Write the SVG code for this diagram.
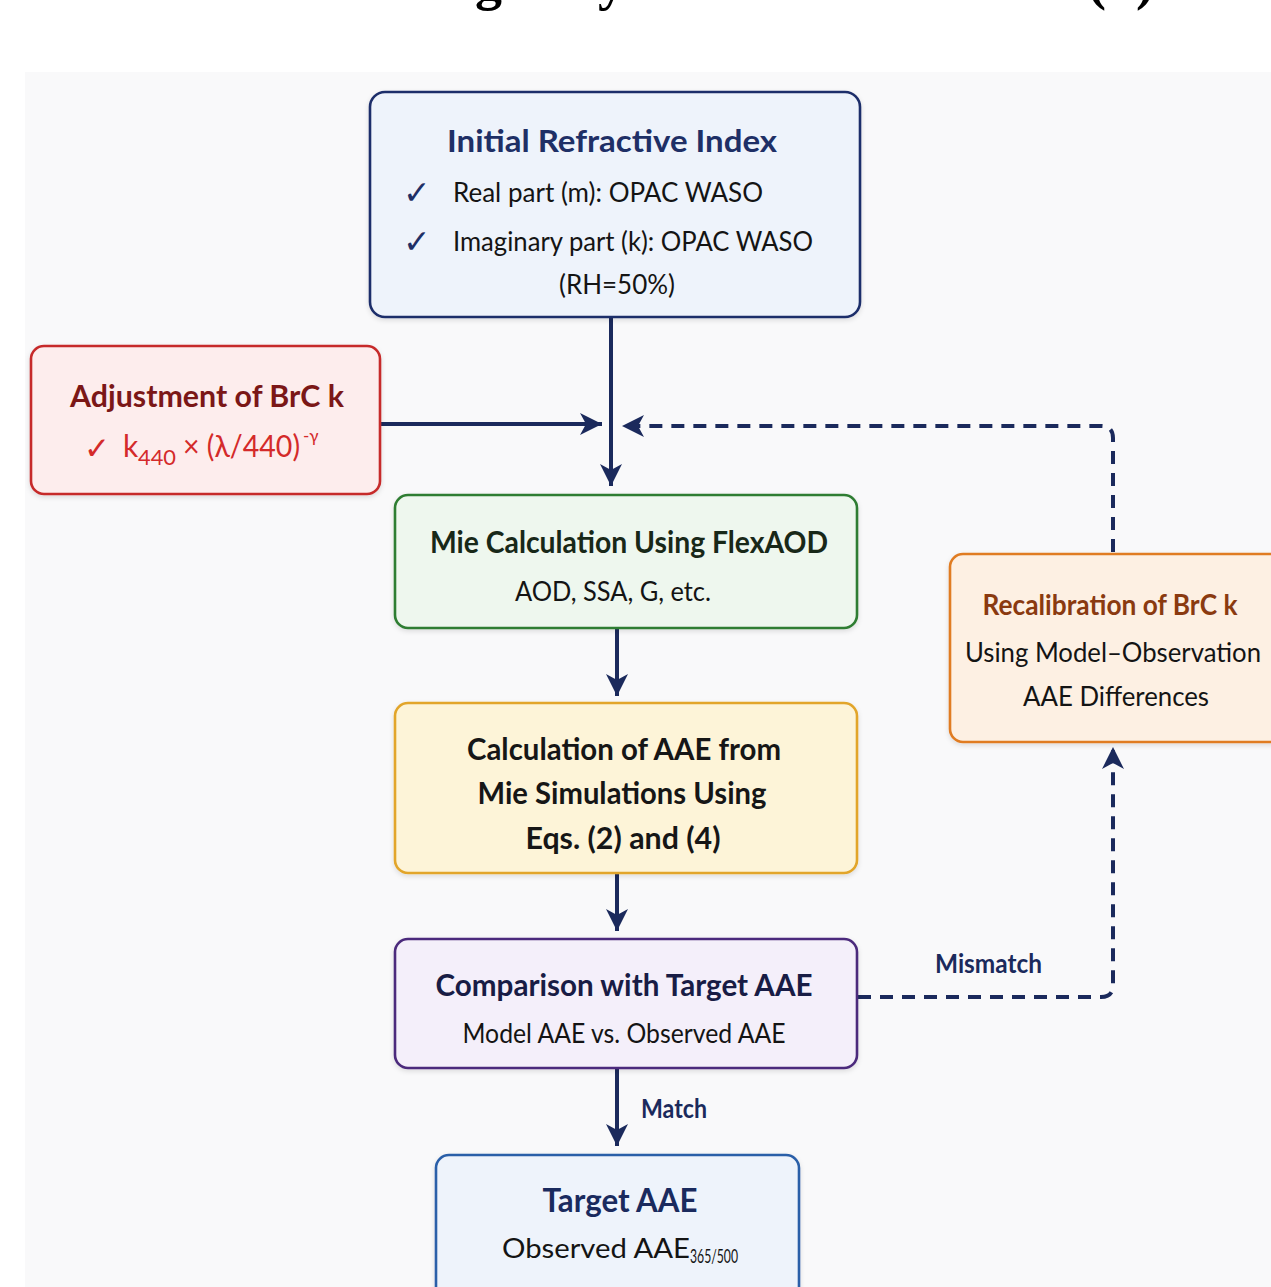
<svg xmlns="http://www.w3.org/2000/svg" width="1271" height="1287" viewBox="0 0 1271 1287">
<style>
text{font-family:Lato,"Open Sans","DejaVu Sans",sans-serif;}
text.serif{font-family:"Liberation Serif","Times New Roman",serif;}
.b{font-weight:700;}
.ttl{font-size:31px;}
.body{font-size:27px;fill:#141414;}
.box{stroke-width:2.6;filter:url(#sh);}
.conn{stroke:#1b2a5c;fill:none;stroke-width:4;}
.dash{stroke-dasharray:13 9;}
.lbl{font-size:26px;fill:#1b2a5c;font-weight:700;}
text.chk{font-family:"DejaVu Sans",sans-serif;font-weight:700;}
</style>
<defs>
<filter id="sh" x="-5%" y="-5%" width="110%" height="115%">
<feDropShadow dx="0" dy="2" stdDeviation="2.5" flood-color="#000" flood-opacity="0.12"/>
</filter>
<marker id="ah" viewBox="-24 -13 26 26" refX="0" refY="0" markerWidth="26" markerHeight="26" markerUnits="userSpaceOnUse" orient="auto">
<path d="M-22,-11 L0,0 L-22,11 L-16,0 z" fill="#1b2a5c"/>
</marker>
</defs>
<rect x="0" y="0" width="1271" height="1287" fill="#ffffff"/>
<rect x="25" y="72" width="1246" height="1215" fill="#f9f9fa"/>
<text class="serif b" font-size="54" fill="#000" y="-1"><tspan x="-36">Schematic of BrC</tspan><tspan x="382">Imaginary Refractive Index</tspan><tspan x="1088">(k)</tspan></text>

<g id="connectors">
<line class="conn" x1="611" y1="317" x2="611" y2="486" marker-end="url(#ah)"/>
<line class="conn" x1="380" y1="424" x2="602" y2="424" stroke-width="5" marker-end="url(#ah)"/>
<path class="conn dash" d="M1113,552 L1113,438 Q1113,426 1101,426 L622,426" marker-end="url(#ah)"/>
<line class="conn" x1="617" y1="628" x2="617" y2="696" marker-end="url(#ah)"/>
<line class="conn" x1="617" y1="873" x2="617" y2="931" marker-end="url(#ah)"/>
<line class="conn" x1="617" y1="1068" x2="617" y2="1146" marker-end="url(#ah)"/>
<path class="conn dash" d="M858,997 L1101,997 Q1113,997 1113,985 L1113,747" marker-end="url(#ah)"/>
<text class="lbl" x="935" y="973" textLength="107" lengthAdjust="spacingAndGlyphs">Mismatch</text>
<text class="lbl" x="641" y="1118" textLength="66" lengthAdjust="spacingAndGlyphs">Match</text>
</g>

<g id="node-initial">
<rect class="box" x="370" y="92" width="490" height="225" rx="15" fill="#eef3fb" stroke="#1f2f6b"/>
<text class="b ttl" x="612" y="152" text-anchor="middle" fill="#1e2f66" textLength="330" lengthAdjust="spacingAndGlyphs">Initial Refractive Index</text>
<text class="chk" x="403" y="204" font-size="33" fill="#1e2f66">✓</text>
<text class="body" x="453" y="202" textLength="310" lengthAdjust="spacingAndGlyphs">Real part (m):  OPAC WASO</text>
<text class="chk" x="403" y="253" font-size="33" fill="#1e2f66">✓</text>
<text class="body" x="453" y="251" textLength="360" lengthAdjust="spacingAndGlyphs">Imaginary part (k): OPAC WASO</text>
<text class="body" x="617" y="294" text-anchor="middle" textLength="116" lengthAdjust="spacingAndGlyphs">(RH=50%)</text>
</g>

<g id="node-adjust">
<rect class="box" x="31" y="346" width="349" height="148" rx="13" fill="#fdeded" stroke="#c62a2a"/>
<text class="b ttl" x="207" y="407" text-anchor="middle" fill="#7b1717" textLength="274" lengthAdjust="spacingAndGlyphs">Adjustment of BrC k</text>
<text class="chk" x="84" y="459" font-size="31" fill="#d42a2a">✓</text>
<text y="457" font-size="30" fill="#d42a2a"><tspan x="123">k</tspan><tspan x="138" dy="8" font-size="21" textLength="38" lengthAdjust="spacingAndGlyphs">440</tspan><tspan x="183" dy="-8" textLength="117" lengthAdjust="spacingAndGlyphs">× (λ/440)</tspan><tspan x="303" dy="-15" font-size="17">-γ</tspan></text>
</g>

<g id="node-mie">
<rect class="box" x="395" y="495" width="462" height="133" rx="13" fill="#eef7ee" stroke="#2e7d32"/>
<text class="b" x="629" y="553" font-size="30" text-anchor="middle" fill="#182818" textLength="398" lengthAdjust="spacingAndGlyphs">Mie Calculation Using FlexAOD</text>
<text class="body" x="515" y="601" textLength="196" lengthAdjust="spacingAndGlyphs">AOD, SSA, G, etc.</text>
</g>

<g id="node-aae">
<rect class="box" x="395" y="703" width="462" height="170" rx="13" fill="#fdf4d8" stroke="#e2a52a"/>
<text class="b" x="624" y="760" font-size="30" text-anchor="middle" fill="#161616" textLength="314" lengthAdjust="spacingAndGlyphs">Calculation of AAE from</text>
<text class="b" x="622" y="804" font-size="30" text-anchor="middle" fill="#161616" textLength="289" lengthAdjust="spacingAndGlyphs">Mie Simulations Using</text>
<text class="b" x="623" y="849" font-size="30" text-anchor="middle" fill="#161616" textLength="195" lengthAdjust="spacingAndGlyphs">Eqs. (2) and (4)</text>
</g>

<g id="node-compare">
<rect class="box" x="395" y="939" width="462" height="129" rx="13" fill="#f4effa" stroke="#4b2a7c"/>
<text class="b" x="624" y="996" font-size="30" text-anchor="middle" fill="#181c45" textLength="377" lengthAdjust="spacingAndGlyphs">Comparison with Target AAE</text>
<text class="body" x="624" y="1043" text-anchor="middle" fill="#1a1a3a" textLength="323" lengthAdjust="spacingAndGlyphs">Model AAE vs. Observed AAE</text>
</g>

<g id="node-target">
<rect class="box" x="436" y="1155" width="363" height="150" rx="13" fill="#eef3fb" stroke="#2a5ea8"/>
<text class="b" x="620" y="1212" font-size="32" text-anchor="middle" fill="#1a2a5e" textLength="155" lengthAdjust="spacingAndGlyphs">Target AAE</text>
<text class="body" y="1258" fill="#1a1f3a"><tspan x="502" textLength="188" lengthAdjust="spacingAndGlyphs">Observed AAE</tspan><tspan x="690" dy="5" font-size="19" textLength="48" lengthAdjust="spacingAndGlyphs">365/500</tspan></text>
</g>

<g id="node-recal">
<rect class="box" x="950" y="554" width="340" height="188" rx="13" fill="#fdf0e3" stroke="#e07b22"/>
<text class="b" x="1110" y="615" font-size="29" text-anchor="middle" fill="#8a3a10" textLength="255" lengthAdjust="spacingAndGlyphs">Recalibration of BrC k</text>
<text class="body" x="1113" y="662" text-anchor="middle" textLength="296" lengthAdjust="spacingAndGlyphs">Using Model–Observation</text>
<text class="body" x="1116" y="706" text-anchor="middle" textLength="186" lengthAdjust="spacingAndGlyphs">AAE Differences</text>
</g>
</svg>
